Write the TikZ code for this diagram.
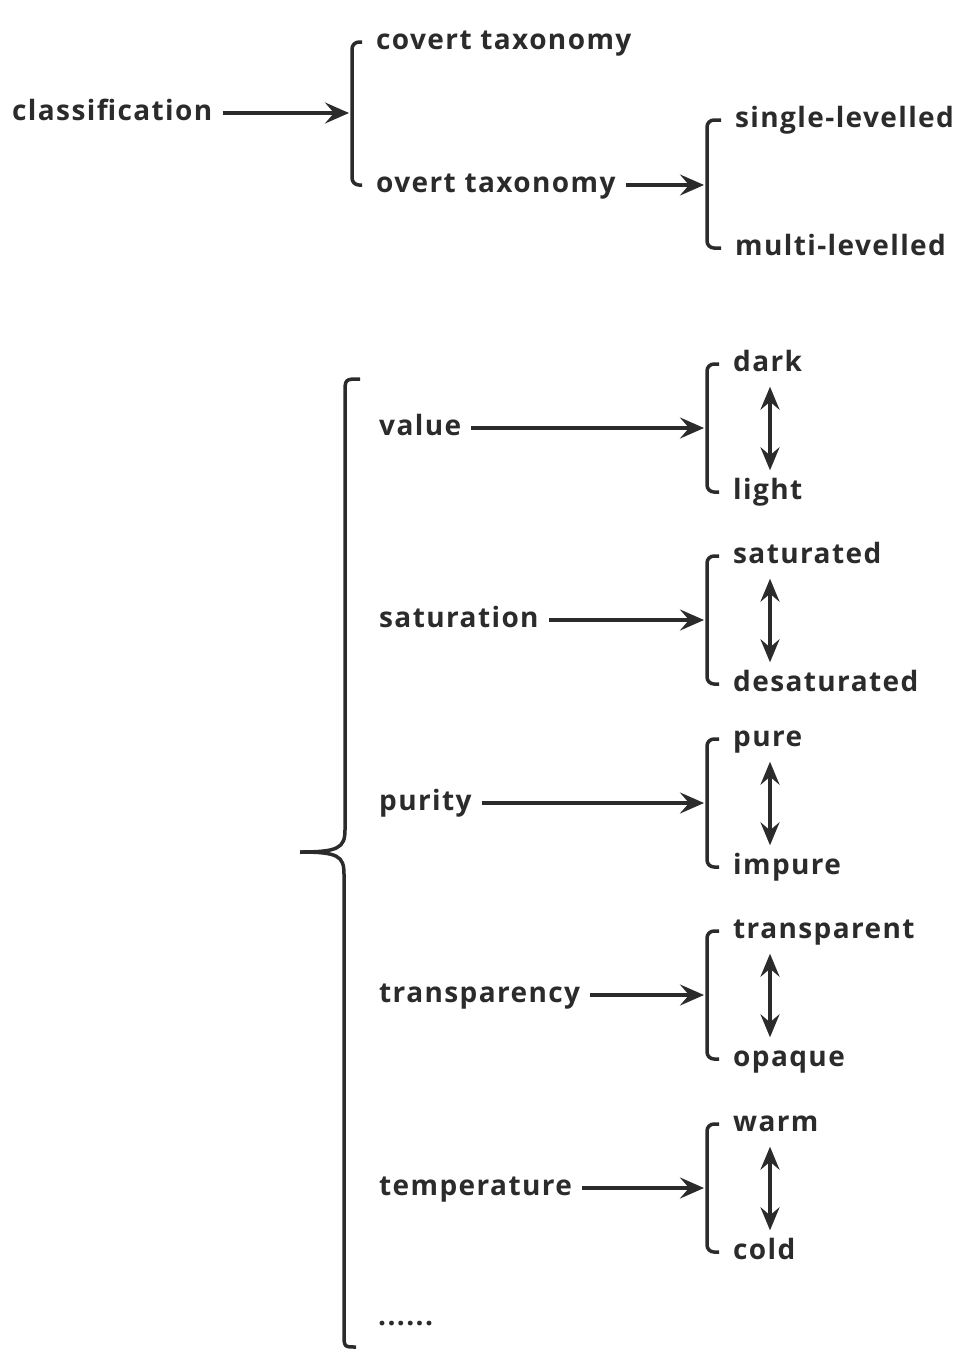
\documentclass[tikz,border=0pt]{standalone}
\usepackage{fontspec}
\usepackage{xcolor}
\usetikzlibrary{arrows.meta}
\newfontfamily\labelfont{Open Sans}[LetterSpace=5]
\definecolor{ink}{HTML}{2B2B2B}

\begin{document}
\begin{tikzpicture}[x=1pt, y=-1pt,
        lbl/.style={font=\labelfont\bfseries\fontsize{28}{32}\selectfont, text=ink,
            inner sep=0pt, text height=21pt, text depth=6pt, anchor=west},
        link/.style={draw=ink, line width=3.5pt, shorten <=10pt, shorten >=3pt,
            -{Stealth[length=24pt, width=21pt, inset=9pt]}},
        both/.style={draw=ink, line width=3.5pt, shorten <=9pt, shorten >=8pt,
            {Stealth[length=23pt, width=19pt, inset=8pt]}-{Stealth[length=23pt, width=19pt, inset=8pt]}},
        brk/.style={draw=ink, line width=3.5pt, rounded corners=7pt}]
        \useasboundingbox (0, 0) rectangle (963, 1352);
        % Taxonomy
        \node [lbl] (cls) at (12, 113) {classification};
        \node [lbl] (covert) at (376, 42) {covert taxonomy};
        \node [lbl] (overt) at (376, 185) {overt taxonomy};
        \node [lbl] (single) at (735, 120) {single-levelled};
        \node [lbl] (multi) at (735, 248) {multi-levelled};
        \coordinate (b1) at (352, 113);
        \coordinate (b2) at (707, 185);
        \draw [brk] ([xshift=-14pt]covert.west) -| (b1) |- ([xshift=-14pt]overt.west);
        \draw [brk] ([xshift=-14pt]single.west) -| (b2) |- ([xshift=-14pt]multi.west);
        \draw [link] (cls) -- (b1);
        \draw [link] (overt) -- (b2);
        % Big brace
        \coordinate (tip) at (300, 852);
        \draw [ink, line width=3.5pt] (360, 379) .. controls (345, 379) .. (345, 394) -- (345, 830)
            .. controls (345, 848) and (338, 852) .. (tip);
        \draw [ink, line width=3.5pt] (tip) .. controls (338, 852) and (344, 856) .. (344, 874)
            -- (344, 1333) .. controls (344, 1347) .. (356, 1347);
        % Colour dimensions
        \foreach \y/\nm/\hi/\lo in {428/value/dark/light, 620/saturation/saturated/desaturated,
            803/purity/pure/impure, 995/transparency/transparent/opaque,
            1188/temperature/warm/cold} {
            \node [lbl] (\nm) at (379, \y) {\nm};
            \node [lbl] (\hi) at (733, \y-64) {\hi};
            \node [lbl] (\lo) at (733, \y+64) {\lo};
            \coordinate (\nm-b) at (707, \y);
            \draw [link] (\nm) -- (\nm-b);
            \draw [brk] ([xshift=-14pt]\hi.west) -| (\nm-b) |- ([xshift=-14pt]\lo.west);
            \draw [both] ([xshift=37pt]\hi.south west) -- ([xshift=37pt]\lo.north west);
        }
        \node [lbl] (more) at (378, 1318) {......};
    \end{tikzpicture}
\end{document}
